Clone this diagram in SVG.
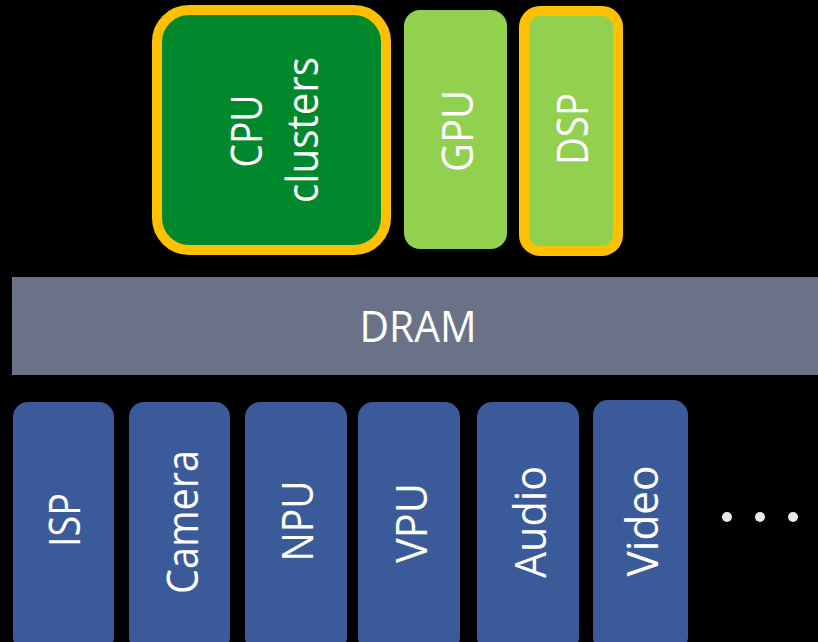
<svg xmlns="http://www.w3.org/2000/svg" width="818" height="642" viewBox="0 0 818 642">
<style>
text{font-family:"Open Sans","Noto Sans","DejaVu Sans",sans-serif;font-size:43px;fill:#ffffff;text-anchor:middle}
.ip{fill:#3B5A9A}
.lg{fill:#92D050}
.hl{stroke:#FFC000;stroke-width:10}
</style>
<rect x="0" y="0" width="818" height="642" fill="#000000"/>
<g id="cpu">
<rect class="hl" x="157" y="10" width="229" height="240" rx="32" fill="#02882C"/>
<text transform="rotate(-90 262 131)" x="262" y="131" textLength="73" lengthAdjust="spacingAndGlyphs">CPU</text>
<text transform="rotate(-90 318 130)" x="318" y="130" textLength="146" lengthAdjust="spacingAndGlyphs">clusters</text>
</g>
<g id="gpu">
<rect class="lg" x="404" y="10" width="103" height="239" rx="16"/>
<text transform="rotate(-90 473 131)" x="473" y="131" textLength="82" lengthAdjust="spacingAndGlyphs">GPU</text>
</g>
<g id="dsp">
<rect class="lg hl" x="524" y="11" width="94" height="240" rx="16"/>
<text transform="rotate(-90 588 129)" x="588" y="129" textLength="72" lengthAdjust="spacingAndGlyphs">DSP</text>
</g>
<g id="dram">
<rect x="12" y="277" width="806" height="98" fill="#6B7187"/>
<text x="418" y="342" textLength="117" lengthAdjust="spacingAndGlyphs">DRAM</text>
</g>
<g id="isp">
<rect class="ip" x="13" y="402" width="101" height="250" rx="15"/>
<text transform="rotate(-90 80 520)" x="80" y="520" textLength="54" lengthAdjust="spacingAndGlyphs">ISP</text>
</g>
<g id="camera">
<rect class="ip" x="129" y="402" width="101" height="250" rx="15"/>
<text transform="rotate(-90 198 522)" x="198" y="522" textLength="144" lengthAdjust="spacingAndGlyphs">Camera</text>
</g>
<g id="npu">
<rect class="ip" x="245" y="402" width="102" height="250" rx="15"/>
<text transform="rotate(-90 313 521)" x="313" y="521" textLength="81" lengthAdjust="spacingAndGlyphs">NPU</text>
</g>
<g id="vpu">
<rect class="ip" x="358" y="402" width="102" height="250" rx="15"/>
<text transform="rotate(-90 427 523)" x="427" y="523" textLength="80" lengthAdjust="spacingAndGlyphs">VPU</text>
</g>
<g id="audio">
<rect class="ip" x="477" y="402" width="102" height="250" rx="15"/>
<text transform="rotate(-90 546 522)" x="546" y="522" textLength="112" lengthAdjust="spacingAndGlyphs">Audio</text>
</g>
<g id="video">
<rect class="ip" x="593" y="400" width="95" height="252" rx="15"/>
<text transform="rotate(-90 658 521)" x="658" y="521" textLength="111" lengthAdjust="spacingAndGlyphs">Video</text>
</g>
<g id="ellipsis" fill="#E8E8EE">
<circle cx="727" cy="517" r="5"/>
<circle cx="760" cy="517" r="5"/>
<circle cx="793" cy="517" r="5"/>
</g>
<g id="connectors"></g>
</svg>
